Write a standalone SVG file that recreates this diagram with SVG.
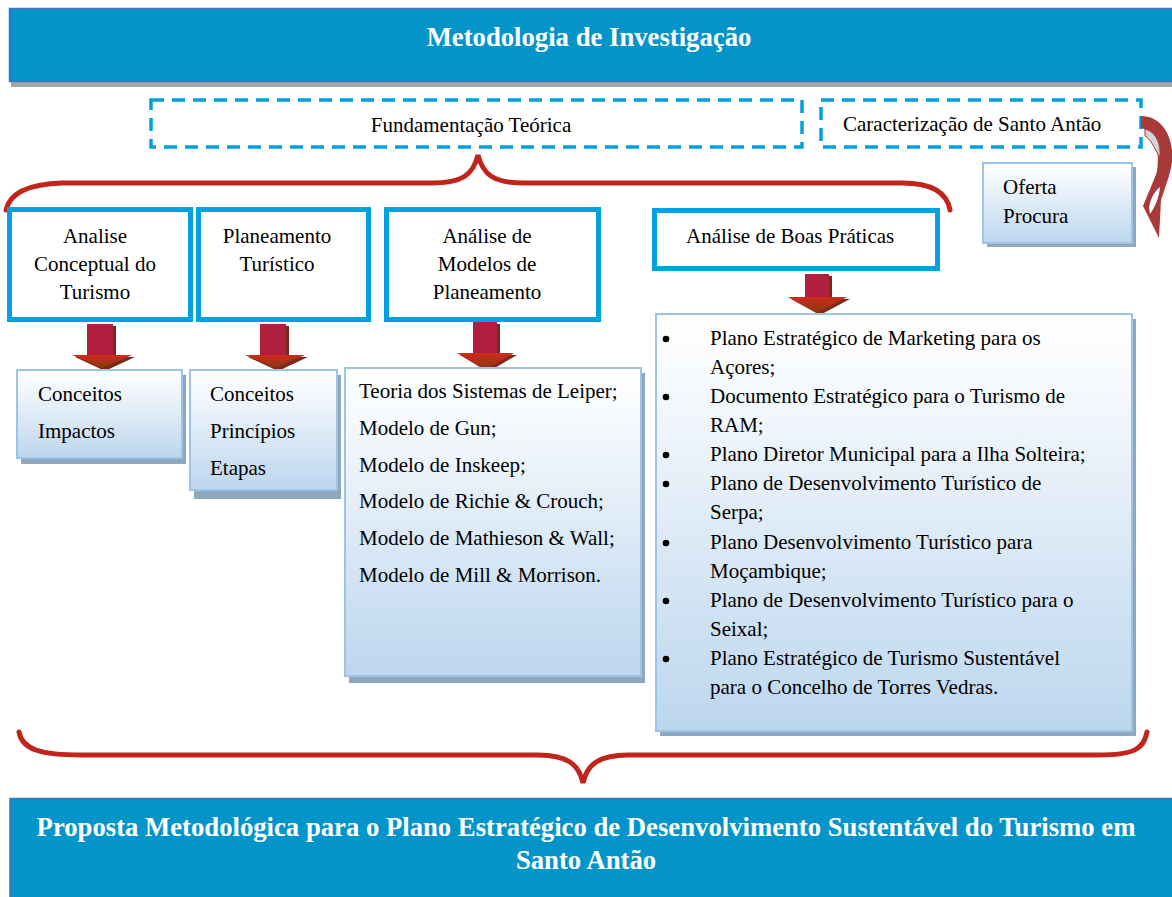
<svg xmlns="http://www.w3.org/2000/svg" width="1172" height="897" viewBox="0 0 1172 897">
<defs>
<style>
.t{font-family:"Liberation Serif","Times New Roman",serif;font-size:21px;fill:#000}
.c{text-anchor:middle}
.h{font-family:"Liberation Serif","Times New Roman",serif;font-size:26.7px;font-weight:bold;fill:#fff;text-anchor:middle}
.hdr{fill:#0395C9;stroke:#4A6FC4;stroke-width:1.5}
.dash{fill:none;stroke:#00A0DC;stroke-width:3.5;stroke-dasharray:13 8}
.cy{fill:#fff;stroke:#00A3E0;stroke-width:5}
.gb{fill:url(#g);stroke:#9DC3E6;stroke-width:2}
.sh{fill:#8EA6BE}
.brace{fill:none;stroke:#C0241A;stroke-width:5;stroke-linecap:round}
.shaft{fill:#B11F3E}
.head{fill:url(#ah)}
.ash{fill:#7A2A1A}
</style>
<linearGradient id="g" x1="0" y1="0" x2="0" y2="1">
<stop offset="0" stop-color="#FFFFFF"/>
<stop offset="0.15" stop-color="#F7FAFD"/>
<stop offset="1" stop-color="#BCD6EE"/>
</linearGradient>
<linearGradient id="ah" x1="0" y1="0" x2="0" y2="1">
<stop offset="0" stop-color="#D02A1E"/>
<stop offset="1" stop-color="#85390F"/>
</linearGradient>
</defs>
<rect width="1172" height="897" fill="#fff"/>

<g id="header">
<rect x="11" y="81" width="1161" height="6" fill="#A6A6A6"/>
<rect class="hdr" x="9.5" y="8.5" width="1165" height="73"/>
<text class="h" x="589" y="46">Metodologia de Investigação</text>
</g>

<g id="fundamentacao">
<rect class="dash" x="151" y="100" width="651" height="47"/>
<text class="t c" x="471" y="132">Fundamentação Teórica</text>
</g>

<g id="caracterizacao">
<rect class="dash" x="821" y="100" width="320" height="47"/>
<text class="t" x="843" y="131">Caracterização de Santo Antão</text>
</g>

<g id="oferta">
<rect class="sh" x="987" y="167" width="149" height="80"/>
<rect class="gb" x="983" y="163" width="149" height="80"/>
<text class="t" x="1003" y="194">Oferta</text>
<text class="t" x="1003" y="223">Procura</text>
</g>

<g id="connectors">
<path class="brace" d="M6,210 C10,192 30,184 62,183 L432,183 C462,183 473,175 478,155 C483,175 494,183 524,183 L902,183 C932,183 947,193 950,210"/>
<path class="brace" d="M19,732 C22,750 42,755 82,755 L538,755 C568,755 579,765 583,783 C587,765 598,755 628,755 L1098,755 C1134,755 1144,749 1147,732"/>
<g id="curved-arrow">
<path d="M1141,116 C1168,116 1179,150 1168,178 L1160,196 L1153,188 C1162,160 1159,132 1141,128 Z" fill="#A93A3A"/>
<path d="M1145,129 C1157,132 1161,145 1160,158 C1154,146 1150,139 1145,136 Z" fill="#D4D4D4" stroke="#A93A3A" stroke-width="1"/>
<polygon points="1162,160 1169,176 1161,200 1159,238 1143,206" fill="#A93A3A"/>
<path d="M1149,207 C1151,197 1155,191 1160,187 C1159,197 1156,205 1150,214 Z" fill="#fff"/>
</g>
<g id="arrow1">
<rect class="ash" x="90" y="326" width="26" height="31"/>
<polygon class="ash" points="75,357 135,357 105,371"/>
<rect class="shaft" x="87" y="324" width="26" height="31"/>
<polygon class="head" points="72,355 132,355 102,368"/>
</g>
<g id="arrow2">
<rect class="ash" x="263" y="326" width="26" height="31"/>
<polygon class="ash" points="248,357 308,357 278,371"/>
<rect class="shaft" x="260" y="324" width="26" height="31"/>
<polygon class="head" points="245,355 305,355 275,368"/>
</g>
<g id="arrow3">
<rect class="ash" x="476" y="324" width="24" height="31"/>
<polygon class="ash" points="460,355 517,355 488,372"/>
<rect class="shaft" x="473" y="322" width="24" height="31"/>
<polygon class="head" points="457,353 514,353 486,370"/>
</g>
<g id="arrow4">
<rect class="ash" x="808" y="276" width="24" height="23"/>
<polygon class="ash" points="791,299 850,299 820,315"/>
<rect class="shaft" x="805" y="274" width="24" height="23"/>
<polygon class="head" points="788,297 847,297 817,313"/>
</g>
</g>

<g id="analise-conceptual">
<rect class="cy" x="9.5" y="209.5" width="181" height="110"/>
<text class="t c" x="95" y="243">Analise</text>
<text class="t c" x="95" y="271">Conceptual do</text>
<text class="t c" x="95" y="299">Turismo</text>
</g>

<g id="planeamento-turistico">
<rect class="cy" x="198.5" y="209.5" width="170" height="110"/>
<text class="t c" x="277" y="243">Planeamento</text>
<text class="t c" x="277" y="271">Turístico</text>
</g>

<g id="analise-modelos">
<rect class="cy" x="386.5" y="209.5" width="212" height="110"/>
<text class="t c" x="487" y="243">Análise de</text>
<text class="t c" x="487" y="271">Modelos de</text>
<text class="t c" x="487" y="299">Planeamento</text>
</g>

<g id="analise-boas-praticas">
<rect class="cy" x="654.5" y="210.5" width="283" height="58"/>
<text class="t" x="686" y="243">Análise de Boas Práticas</text>
</g>

<g id="conceitos-impactos">
<rect class="sh" x="21" y="375" width="165" height="89"/>
<rect class="gb" x="17" y="370" width="165" height="88"/>
<text class="t" x="38" y="401">Conceitos</text>
<text class="t" x="38" y="438">Impactos</text>
</g>

<g id="conceitos-principios">
<rect class="sh" x="194" y="375" width="147" height="124"/>
<rect class="gb" x="190" y="370" width="147" height="120"/>
<text class="t" x="210" y="401">Conceitos</text>
<text class="t" x="210" y="438">Princípios</text>
<text class="t" x="210" y="475">Etapas</text>
</g>

<g id="modelos">
<rect class="sh" x="349" y="373" width="296" height="310"/>
<rect class="gb" x="345" y="368" width="296" height="308"/>
<text class="t" x="359" y="398">Teoria dos Sistemas de Leiper;</text>
<text class="t" x="359" y="435">Modelo de Gun;</text>
<text class="t" x="359" y="472">Modelo de Inskeep;</text>
<text class="t" x="359" y="508">Modelo de Richie &amp; Crouch;</text>
<text class="t" x="359" y="545">Modelo de Mathieson &amp; Wall;</text>
<text class="t" x="359" y="582">Modelo de Mill &amp; Morrison.</text>
</g>

<g id="boas-praticas">
<rect class="sh" x="660" y="319" width="476" height="417"/>
<rect class="gb" x="656" y="314" width="476" height="417"/>
<g fill="#000">
<circle cx="666" cy="339" r="3.3"/>
<circle cx="666" cy="397" r="3.3"/>
<circle cx="666" cy="455" r="3.3"/>
<circle cx="666" cy="484" r="3.3"/>
<circle cx="666" cy="543" r="3.3"/>
<circle cx="666" cy="601" r="3.3"/>
<circle cx="666" cy="659" r="3.3"/>
</g>
<text class="t" x="710" y="345">Plano Estratégico de Marketing para os</text>
<text class="t" x="710" y="374">Açores;</text>
<text class="t" x="710" y="403">Documento Estratégico para o Turismo de</text>
<text class="t" x="710" y="432">RAM;</text>
<text class="t" x="710" y="461">Plano Diretor Municipal para a Ilha Solteira;</text>
<text class="t" x="710" y="490">Plano de Desenvolvimento Turístico de</text>
<text class="t" x="710" y="519">Serpa;</text>
<text class="t" x="710" y="549">Plano Desenvolvimento Turístico para</text>
<text class="t" x="710" y="578">Moçambique;</text>
<text class="t" x="710" y="607">Plano de Desenvolvimento Turístico para o</text>
<text class="t" x="710" y="636">Seixal;</text>
<text class="t" x="710" y="665">Plano Estratégico de Turismo Sustentável</text>
<text class="t" x="710" y="694">para o Concelho de Torres Vedras.</text>
</g>

<g id="proposta">
<rect class="hdr" x="10" y="798.5" width="1165" height="102"/>
<text class="h" x="586" y="836">Proposta Metodológica para o Plano Estratégico de Desenvolvimento Sustentável do Turismo em</text>
<text class="h" x="586" y="869">Santo Antão</text>
</g>
</svg>
